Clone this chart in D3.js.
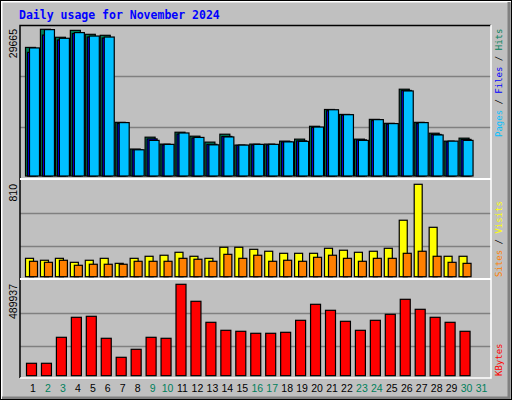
<!DOCTYPE html><html><head><meta charset="utf-8">
<script src="https://cdn.jsdelivr.net/npm/d3@7"></script>
<style>body{margin:0;background:#fff}</style></head><body>
<svg id="c" width="512" height="400"></svg>
<script>
const days=d3.range(1,32);
const weekend=[2,3,9,10,16,17,23,24,30,31];
const hits=[26000,29665,28050,29450,28650,28450,10850,5450,7850,6450,8850,8050,6850,8450,6250,6450,6450,7050,7450,10050,13450,12450,7450,11450,10650,17550,10850,8650,7050,7650,0];
const files=[25000,28500,27500,28800,28100,27900,10600,5300,7500,6300,8500,7700,6400,8000,6200,6300,6300,6900,7100,9800,13200,12300,7300,11200,10500,17300,10600,8400,6900,7400,0];
const pages=[25900,29600,27850,29000,28300,28100,10800,5300,7200,6400,8700,7800,6300,7900,6250,6400,6400,6900,7000,9900,13400,12400,7200,11400,10600,17200,10800,8300,7050,7200,0];
const visits=[161,144,161,126,144,161,117,161,179,188,214,179,161,258,258,240,223,205,205,205,249,232,214,223,249,495,810,433,179,179,0];
const sites=[135,126,144,100,109,109,109,135,135,135,161,153,135,196,161,188,135,144,135,170,188,161,135,161,161,205,223,179,126,117,0];
const kbytes=[66500,66500,205800,313000,318400,200500,98600,141500,205800,200500,489937,398800,286200,243300,238000,227300,227300,232600,296900,382700,350500,291600,243300,296900,329100,409500,355900,313000,286200,238000,0];

const svg=d3.select("#c");
svg.append("rect").attr("width",512).attr("height",400).attr("fill","#c0c0c0");
svg.append("path").attr("d","M1.5,399V1.5H511").attr("stroke","#fff").attr("fill","none").attr("stroke-width",2);
svg.append("path").attr("d","M509,2V398H2").attr("stroke","#808080").attr("fill","none").attr("stroke-width",3);
svg.append("rect").attr("x",0.5).attr("y",0.5).attr("width",511).attr("height",399).attr("fill","none").attr("stroke","#000");

svg.append("text").attr("x",19).attr("y",19).text("Daily usage for November 2024")
 .attr("font-family","DejaVu Sans Mono").attr("font-weight","bold").attr("font-size",11.5).attr("fill","#0000ff");

const X0=20,X1=491;
const x=d3.scaleBand().domain(days).range([X0+5,X0+5+31*14.95]).paddingInner(0);
function panel(y0,y1,grids){
  svg.append("rect").attr("x",X0).attr("y",y0).attr("width",X1-X0).attr("height",y1-y0).attr("fill","#c0c0c0");
  grids.forEach(g=>svg.append("line").attr("x1",X0).attr("x2",X1).attr("y1",g).attr("y2",g).attr("stroke","#808080").attr("stroke-width",1.5));
}
panel(25,178,[76.5,127.5]); panel(180,278,[213.5,246.5]); panel(280,376,[313.5,346.5]);
svg.append("path").attr("d",`M${X0},378V25.5H${X1}`).attr("stroke","#000").attr("fill","none").attr("stroke-width",1.5);
svg.append("path").attr("d",`M${X1},25V378H${X0}`).attr("stroke","#fff").attr("fill","none").attr("stroke-width",1.5);
[179,279].forEach(y=>svg.append("line").attr("x1",X0).attr("x2",X1).attr("y1",y).attr("y2",y).attr("stroke","#fff").attr("stroke-width",2));

const y1=d3.scaleLinear().domain([0,29665]).range([176,29.3]);
const y2=d3.scaleLinear().domain([0,810]).range([276.7,184.3]);
const y3=d3.scaleLinear().domain([0,489937]).range([375.7,284.3]);
function bars(data,y,off,w,fill){
  svg.append("g").selectAll("rect").data(data).join("rect").filter(d=>d>0)
   .attr("x",(d,i)=>x(days[i])+off+0.5).attr("y",d=>y(d)).attr("width",w).attr("height",d=>y(0)-y(d))
   .attr("fill",fill).attr("stroke","#000").attr("stroke-width",1.2);
}
bars(hits,y1,0,10,"#00805c");
bars(files,y1,2,10,"#0000ff");
bars(pages,y1,4,10,"#00c0ff");
bars(visits,y2,0,8,"#ffff00");
bars(sites,y2,4,8,"#ff8000");
bars(kbytes,y3,1,10,"#ff0000");

svg.append("g").selectAll("text").data(days).join("text")
 .attr("x",d=>x(d)+8).attr("y",392).attr("text-anchor","middle")
 .attr("font-family","Liberation Sans").attr("font-size",10.5)
 .attr("fill",d=>weekend.includes(d)?"#00805c":"#000").text(d=>d);

[[29665,29],[810,184],[489937,284]].forEach(([v,yy])=>{
  svg.append("text").attr("transform",`translate(17,${yy}) rotate(-90)`).attr("text-anchor","end")
   .attr("font-family","Liberation Sans").attr("font-size",10.5).attr("fill","#000").text(v);
});
function legend(yEnd,parts){
  const t=svg.append("text").attr("transform",`translate(502,${yEnd}) rotate(-90)`)
   .attr("font-family","DejaVu Sans Mono").attr("font-size",9);
  parts.forEach(([s,c])=>t.append("tspan").attr("fill",c).text(s));
}
legend(137,[["Pages","#00c0ff"],[" / ","#000"],["Files","#0000ff"],[" / ","#000"],["Hits","#00805c"]]);
legend(277,[["Sites","#ff8000"],[" / ","#000"],["Visits","#ffff00"]]);
legend(376,[["KBytes","#ff0000"]]);
</script></body></html>
